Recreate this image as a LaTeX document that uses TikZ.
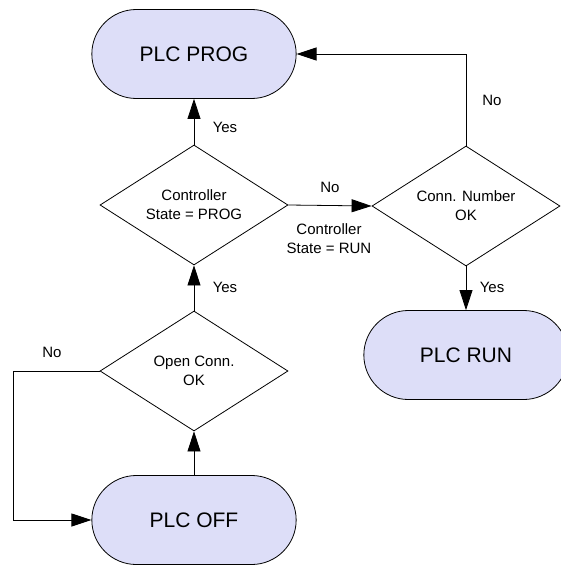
\documentclass[tikz,border=0pt]{standalone}
\usepackage{fontspec}
\setmainfont{Liberation Sans}
\usepackage{xcolor}
\usetikzlibrary{shapes.geometric,shapes.misc,arrows.meta}
\definecolor{stateblue}{RGB}{221,222,248}
\tikzset{
  statebox/.style={draw, rounded rectangle, fill=stateblue, minimum width=211pt, minimum height=89pt, line width=0.8pt, font=\fontsize{21}{25}\selectfont},
  choice/.style={draw, diamond, minimum width=188pt, minimum height=120pt, inner sep=0pt, aspect=1.56, line width=0.8pt, align=center, font=\fontsize{15}{19}\selectfont},
  tag/.style={font=\fontsize{15}{19}\selectfont, align=center, inner sep=0pt},
  flow/.style={line width=0.8pt, -{Triangle[length=20pt,width=13pt]}}
}
\begin{document}
\begin{tikzpicture}[x=1pt,y=-1pt]
\useasboundingbox (0,0) rectangle (561,565);

\node[statebox] (prog) at (194,54) {PLC PROG};
\node[statebox] (run) at (466,355) {PLC RUN};
\node[statebox] (off) at (194,520) {PLC OFF};

\node[choice] (state) at (194,205) {Controller\\State = PROG};
\node[choice] (number) at (466,206) {Conn. Number\\OK};
\node[choice] (open) at (194,371) {Open Conn.\\OK};

\coordinate (loop) at (13,371);

\draw[flow] (off.north) -- (open.south);
\draw[flow] (open.north) -- (state.south);
\draw[flow] (state.north) -- (prog.south);
\draw[flow] (state.east) -- (number.west);
\draw[flow] (number.south) -- (run.north);
\draw[flow] (number.north) |- (prog.east);
\draw[flow] (open.west) -- (loop) |- (off.west);

\node[tag] (yesprog) at (225,127) {Yes};
\node[tag] (yesstate) at (225,287) {Yes};
\node[tag] (yesrun) at (492,287) {Yes};
\node[tag] (norun) at (330,187) {No};
\node[tag] (runstate) at (329,239) {Controller\\State = RUN};
\node[tag] (noprog) at (492,100) {No};
\node[tag] (nooff) at (52,352) {No};
\end{tikzpicture}
\end{document}
